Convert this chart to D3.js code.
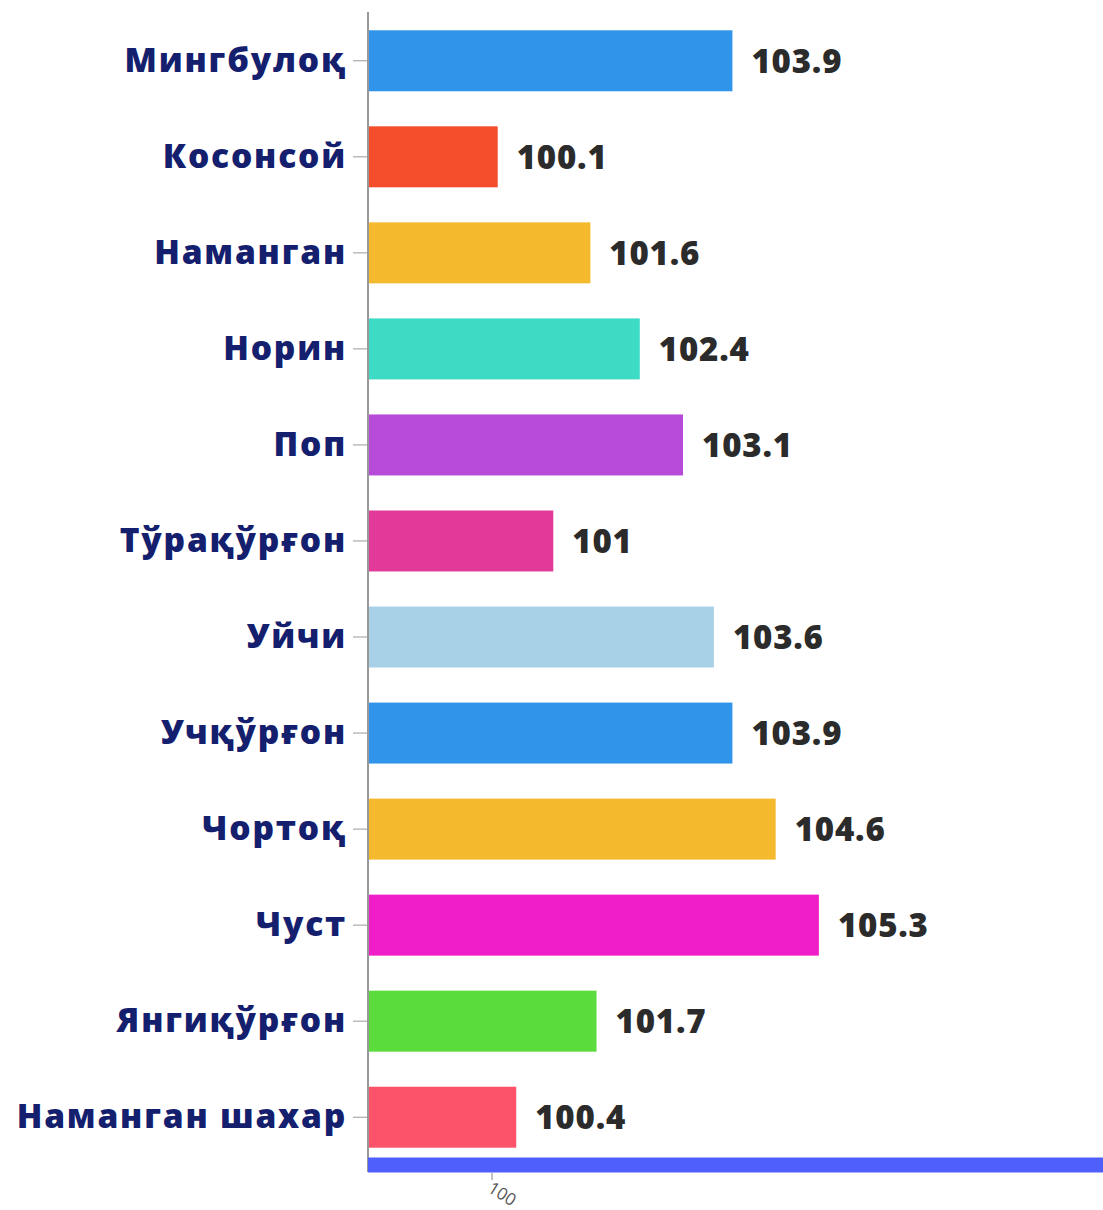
<!DOCTYPE html>
<html><head><meta charset="utf-8">
<script src="https://cdn.jsdelivr.net/npm/d3@7"></script>
<style>body{margin:0;background:#fff;} svg{display:block;}</style>
</head><body>
<script>
const categories = ["Мингбулоқ","Косонсой","Наманган","Норин","Поп","Тўрақўрғон","Уйчи","Учқўрғон","Чортоқ","Чуст","Янгиқўрғон","Наманган шахар"];
const values = [103.9,100.1,101.6,102.4,103.1,101,103.6,103.9,104.6,105.3,101.7,100.4];
const colors = ["#3095ea","#f44d2b","#f4b92c","#3ddbc3","#b84ad9","#e23a98","#a8d1e7","#3095ea","#f4b92c","#f01ec8","#5adc3c","#fd536a"];
const xTicks = [100];

(function(){
const W = 1103, H = 1210;
const mLeft = 368, mRight = 1103, mTop = 13, mBottom = 1165;
const svg = d3.select("body").append("svg").attr("width", W).attr("height", H);
const x = d3.scaleLinear().domain([98, 109.9]).range([mLeft, mRight]);
const y = d3.scaleBand().domain(categories).range([mTop, mBottom]).paddingInner(0.365).paddingOuter(0.18);

const font = "'Open Sans', sans-serif";

svg.append("g").selectAll("rect").data(categories).join("rect")
  .attr("x", x(98)).attr("y", d => y(d))
  .attr("width", (d,i) => x(values[i]) - x(98))
  .attr("height", y.bandwidth())
  .attr("fill", (d,i) => colors[i]);

svg.append("g").selectAll("text").data(categories).join("text")
  .attr("x", (d,i) => x(values[i]) + 19)
  .attr("y", d => y(d) + y.bandwidth()/2)
  .attr("dy", "0.36em")
  .attr("font-family", font).attr("font-weight", 800).attr("font-size", 33)
  .attr("letter-spacing", 0.8)
  .attr("fill", "#2b2b2b")
  .text((d,i) => values[i]);

const yAxis = svg.append("g").attr("transform", `translate(${mLeft},0)`)
  .call(d3.axisLeft(y).tickSize(15).tickPadding(8));
yAxis.select(".domain").attr("stroke", "#999").attr("stroke-width", 2).attr("d", `M0,12V1172`);
yAxis.selectAll(".tick line").attr("stroke", "#999");
yAxis.selectAll(".tick text").attr("font-family", font).attr("font-weight", 800)
  .attr("font-size", 33.5).attr("letter-spacing", 1.8).attr("fill", "#14206e")
  .attr("dx", "2");

const xAxis = svg.append("g").attr("transform", `translate(0,1165)`)
  .call(d3.axisBottom(x).tickValues(xTicks).tickSize(15).tickPadding(6));
xAxis.select(".domain").attr("stroke", "#4f5ffb").attr("stroke-width", 15).attr("d", `M${mLeft},0H${mRight}`);
xAxis.selectAll(".tick line").attr("stroke", "#888").attr("y1", 8);
xAxis.selectAll(".tick text").attr("font-family", "'Open Sans', sans-serif")
  .attr("font-size", 17).attr("fill", "#555")
  .attr("text-anchor", "start")
  .attr("x", 0).attr("y", 0).attr("dy", "0.7em")
  .attr("transform", "translate(1,16) rotate(32)");
})();
</script>
</body></html>
